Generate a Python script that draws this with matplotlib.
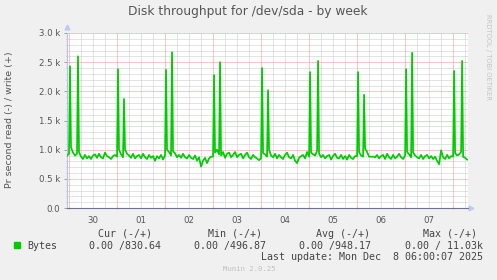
import numpy as np
import matplotlib
matplotlib.use('Agg')
from matplotlib import pyplot as plt

# hourly write rate (bytes/s), one row per day, starting Sun 30 Nov 00:00
start_val = 900  # last point before midnight
nov30 = [930, 1040, 950, 900, 930, 960, 880, 840, 910, 850, 890, 840, 900, 920, 860, 930, 870, 850, 950, 890, 870, 840, 890, 910]
dec01 = [880, 1000, 920, 870, 1000, 930, 900, 860, 930, 850, 890, 910, 850, 930, 870, 840, 910, 860, 890, 810, 890, 850, 910, 830]
dec02 = [900, 1000, 960, 900, 970, 940, 870, 910, 860, 930, 870, 850, 910, 860, 840, 900, 810, 870, 710, 810, 860, 770, 850, 880]
dec03 = [880, 950, 1000, 920, 900, 960, 860, 930, 950, 870, 910, 960, 870, 910, 930, 850, 910, 950, 870, 840, 910, 870, 850, 820]
dec04 = [850, 940, 920, 880, 1000, 900, 870, 930, 850, 910, 870, 840, 910, 950, 870, 850, 910, 810, 770, 860, 890, 910, 850, 960]
dec05 = [880, 950, 920, 900, 980, 930, 870, 910, 850, 890, 910, 830, 890, 930, 860, 850, 910, 840, 890, 830, 910, 860, 840, 890]
dec06 = [890, 960, 900, 880, 1020, 960, 880, 880, 880, 870, 910, 850, 890, 910, 840, 930, 870, 840, 910, 850, 880, 930, 870, 840]
dec07 = [900, 960, 920, 870, 950, 900, 870, 850, 910, 840, 890, 910, 850, 890, 840, 880, 810, 750, 990, 870, 840, 910, 850, 890]
dec08 = [880, 940, 900, 920, 960, 880, 860, 830]

# nightly backup spikes: (day index, hour, value)
spike_day = [0, 0, 1, 1, 2, 2, 3, 3, 4, 4, 5, 5, 6, 6, 7, 7, 8, 8]
spike_hour = [0.5, 4.5, 0.5, 3.5, 0.5, 3.5, 0.5, 3.5, 0.5, 3.5, 0.5, 4.5, 0.5, 3.5, 0.5, 3.5, 0.5, 4.5]
spike_val = [2430, 2600, 2380, 1870, 2370, 2670, 2280, 2500, 2400, 2020, 2330, 2520, 2330, 1940, 2380, 2660, 2350, 2520]

day_labels = ['30', '01', '02', '03', '04', '05', '06', '07']
legend_cols = ['Cur (-/+)', 'Min (-/+)', 'Avg (-/+)', 'Max (-/+)']
legend_vals = ['0.00 /830.64', '0.00 /496.87', '0.00 /948.17', '0.00 / 11.03k']

days = [nov30, dec01, dec02, dec03, dec04, dec05, dec06, dec07, dec08]
t = [-1 / 24]
v = [start_val]
for d, row in enumerate(days):
    for h, val in enumerate(row):
        t.append(d + h / 24)
        v.append(val)
for d, h, val in zip(spike_day, spike_hour, spike_val):
    t.append(d + h / 24)
    v.append(val)
t = np.array(t)
v = np.array(v)
order = np.argsort(t)
t, v = t[order], v[order]

W, H = 497, 280
fig = plt.figure(figsize=(W / 100, H / 100), dpi=100, facecolor='#F0F0F0')
ax = fig.add_axes([67 / W, 1 - 208 / H, 401 / W, 175 / H])
ax.set_facecolor('white')
xmin, xmax = -2 / 48, 8.31
ax.set_xlim(xmin, xmax)
ax.set_ylim(0, 3000)

dot = (0, (1, 1))
for x in np.arange(0, xmax, 0.25):
    if x % 1 != 0:
        ax.axvline(x, color='#C8C8C8', lw=0.72, ls=dot, zorder=1)
for y in np.arange(100, 3001, 100):
    if y % 500 != 0:
        ax.axhline(y, color='#C8C8C8', lw=0.72, ls=dot, zorder=1)
for x in np.arange(0, 9):
    ax.axvline(x, color='#F09090', lw=0.72, ls=dot, zorder=2)
for y in np.arange(500, 3001, 500):
    ax.axhline(y, color='#F09090', lw=0.72, ls=dot, zorder=2)

ax.plot(t, v, color='#00CC00', lw=1.25, zorder=3)

for s in ['top', 'right']:
    ax.spines[s].set_visible(False)
ax.spines['left'].set_color('#B8C0F0')
ax.spines['left'].set_linewidth(0.8)
ax.spines['bottom'].set_color('#707090')
ax.spines['bottom'].set_linewidth(0.8)
ax.plot([0], [1.035], marker='^', ms=3.5, color='#C0C8F4', transform=ax.transAxes, clip_on=False)
ax.plot([1.008], [0], marker='>', ms=3.5, color='#C0C8F4', transform=ax.transAxes, clip_on=False)

ax.set_yticks(np.arange(0, 3001, 500))
ax.set_yticklabels(['0.0'] + ['%.1f k' % (y / 1000) for y in np.arange(500, 3001, 500)])
ax.set_yticks(np.arange(0, 3001, 100), minor=True)
ax.tick_params(axis='y', which='major', length=2, width=0.6, color='#909090', pad=3,
               labelsize=6.2, labelcolor='#555555')
ax.tick_params(axis='y', which='minor', length=1, width=0.5, color='#B0B0B0')
ax.set_xticks(np.arange(0, 9))
ax.set_xticklabels([])
ax.set_xticks([], minor=True)
ax.tick_params(axis='x', which='major', length=2, width=0.6, color='#F09A9A', direction='inout')
for i, lab in enumerate(day_labels):
    ax.text(i + 0.5, -0.045, lab, transform=ax.get_xaxis_transform(), ha='center', va='top',
            fontsize=6.2, color='#555555')

fig.text(248 / W, 1 - 12 / H, 'Disk throughput for /dev/sda - by week', ha='center', va='center',
         fontsize=8.8, color='#555555')
fig.text(10 / W, 1 - 120 / H, 'Pr second read (-) / write (+)', rotation=90, ha='center', va='center',
         fontsize=6.8, color='#555555')
fig.text(488 / W, 1 - 57 / H, 'RRDTOOL / TOBI OETIKER', rotation=270, ha='center', va='center',
         fontsize=4.9, color='#C4C4C4')

mono = 'DejaVu Sans Mono'
txt = '#444444'
fig.patches.append(plt.Rectangle((14 / W, 1 - 248 / H), 6 / W, 6 / H, transform=fig.transFigure,
                                 color='#00CC00'))
fig.text(27 / W, 1 - 246 / H, 'Bytes', family=mono, fontsize=7.2, va='center', color=txt)
for x, s in zip([98, 208, 316, 423], legend_cols):
    fig.text(x / W, 1 - 234 / H, s, family=mono, fontsize=7.2, va='center', color=txt)
for x, s in zip([89, 194, 299, 405], legend_vals):
    fig.text(x / W, 1 - 246 / H, s, family=mono, fontsize=7.2, va='center', color=txt)
fig.text(483 / W, 1 - 257 / H, 'Last update: Mon Dec  8 06:00:07 2025', family=mono, fontsize=7.2,
         ha='right', va='center', color=txt)
fig.text(249 / W, 1 - 269 / H, 'Munin 2.0.25', family=mono, fontsize=5.2, ha='center', va='center',
         color='#C0C0C0')

fig.savefig('out.png', dpi=100, facecolor=fig.get_facecolor())
